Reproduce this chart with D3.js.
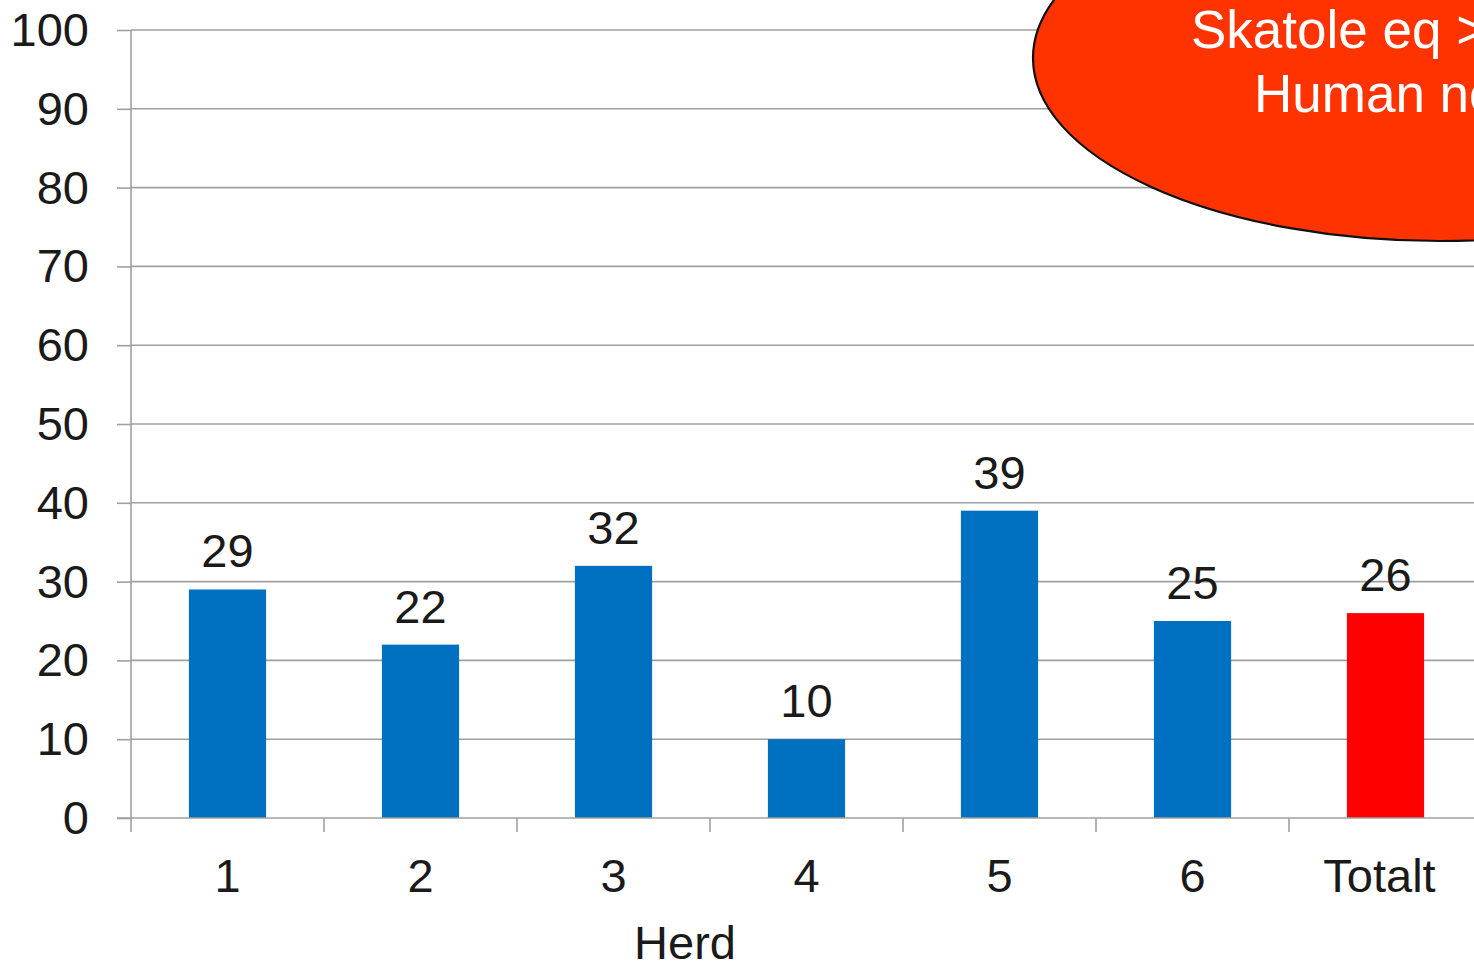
<!DOCTYPE html>
<html>
<head>
<meta charset="utf-8">
<script src="https://cdn.jsdelivr.net/npm/d3@7"></script>
<style>
  html, body { margin: 0; padding: 0; background: #fff; overflow: hidden; }
  svg { display: block; font-family: "Liberation Sans", Arial, sans-serif; }
</style>
</head>
<body>
<svg id="chart" width="1474" height="964"></svg>
<script>
// Share of carcasses per herd (percent)
const categories = ["1", "2", "3", "4", "5", "6", "Totalt"];
const values = [29, 22, 32, 10, 39, 25, 26];
const yTicks = [0, 10, 20, 30, 40, 50, 60, 70, 80, 90, 100];
const xTitle = "Herd";
const calloutLines = ["Skatole eq > 0.2", "Human nose"];

const svg = d3.select("#chart");
const plotLeft = 131, plotTop = 30, plotBottom = 818;
const bandStep = 193;
const plotRight = plotLeft + bandStep * categories.length;
const fontSize = 47;

const x = d3.scaleBand().domain(categories).range([plotLeft, plotRight]).paddingInner(0.6).paddingOuter(0.3);
const xBand = d3.scaleBand().domain(categories).range([plotLeft, plotRight]);
const y = d3.scaleLinear().domain([0, 100]).range([plotBottom, plotTop]);

const gridColor = "#a0a0a0";
const textColor = "#1a1a1a";

// horizontal gridlines
svg.append("g").selectAll("line").data(yTicks.filter(d => d > 0)).join("line")
  .attr("x1", plotLeft).attr("x2", plotRight)
  .attr("y1", d => y(d)).attr("y2", d => y(d))
  .attr("stroke", gridColor).attr("stroke-width", 1.6);

// y axis
const yAxis = svg.append("g").attr("transform", `translate(${plotLeft},0)`)
  .call(d3.axisLeft(y).tickValues(yTicks).tickSize(14).tickPadding(28));
yAxis.select(".domain").attr("stroke", gridColor).attr("stroke-width", 1.6)
  .attr("d", `M0,${plotBottom}V${plotTop}`);
yAxis.selectAll(".tick line").attr("stroke", gridColor).attr("stroke-width", 1.6);
yAxis.selectAll(".tick text").attr("fill", textColor).attr("font-size", fontSize)
  .attr("font-family", "Liberation Sans, Arial, sans-serif").attr("dy", "0.33em");

// bars
svg.append("g").selectAll("rect").data(categories).join("rect")
  .attr("x", d => x(d)).attr("width", x.bandwidth())
  .attr("y", (d, i) => y(values[i]))
  .attr("height", (d, i) => plotBottom - y(values[i]))
  .attr("fill", d => d === "Totalt" ? "#ff0000" : "#0070c0");

// x axis baseline with tick marks at band boundaries
svg.append("line").attr("x1", plotLeft - 14).attr("x2", plotRight)
  .attr("y1", plotBottom).attr("y2", plotBottom)
  .attr("stroke", gridColor).attr("stroke-width", 1.6);
svg.append("g").selectAll("line").data(categories).join("line")
  .attr("x1", d => xBand(d)).attr("x2", d => xBand(d))
  .attr("y1", plotBottom).attr("y2", plotBottom + 14)
  .attr("stroke", gridColor).attr("stroke-width", 1.6);

// category labels
svg.append("g").selectAll("text").data(categories).join("text")
  .attr("x", d => xBand(d) + xBand.bandwidth() / 2 - (d === "Totalt" ? 6 : 0))
  .attr("y", 892)
  .attr("text-anchor", "middle")
  .attr("font-size", fontSize).attr("fill", textColor)
  .text(d => d);

// value labels
svg.append("g").selectAll("text").data(categories).join("text")
  .attr("x", d => x(d) + x.bandwidth() / 2)
  .attr("y", (d, i) => y(values[i]) - 22)
  .attr("text-anchor", "middle")
  .attr("font-size", fontSize).attr("fill", textColor)
  .text((d, i) => values[i]);

// axis title
svg.append("text").attr("x", 685).attr("y", 959)
  .attr("text-anchor", "middle").attr("font-size", fontSize).attr("fill", textColor)
  .text(xTitle);

// callout ellipse
svg.append("ellipse")
  .attr("cx", 1440).attr("cy", 58).attr("rx", 407).attr("ry", 183)
  .attr("fill", "#ff3300").attr("stroke", "#111").attr("stroke-width", 2.2);
svg.append("g").selectAll("text").data(calloutLines).join("text")
  .attr("x", (d, i) => i === 0 ? 1191 : 1254)
  .attr("y", (d, i) => 48 + i * 64)
  .attr("font-size", 53).attr("fill", "#ffffff")
  .text(d => d);
</script>
</body>
</html>
